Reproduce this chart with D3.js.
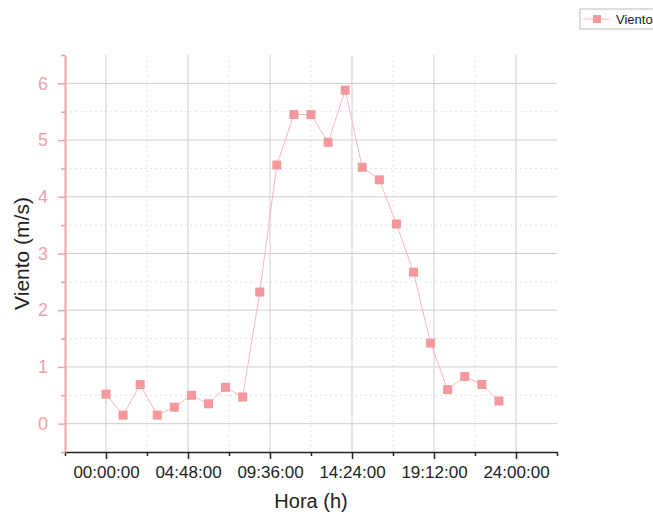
<!DOCTYPE html>
<html>
<head>
<meta charset="utf-8">
<script src="https://cdn.jsdelivr.net/npm/d3@7"></script>
<style>
  body { margin: 0; background: #fff; }
  svg { display: block; font-family: Arial, "Liberation Sans", sans-serif; }
</style>
</head>
<body>
<svg width="653" height="515"></svg>
<script>
// hours since midnight, wind speed in m/s
const hours = d3.range(0, 24);
const viento = [0.52, 0.15, 0.69, 0.15, 0.29, 0.5, 0.35, 0.64, 0.47, 2.32, 4.56,
  5.45, 5.45, 4.96, 5.88, 4.52, 4.3, 3.52, 2.67, 1.42, 0.6, 0.83, 0.69, 0.4];
const x_ticks = [0, 4.8, 9.6, 14.4, 19.2, 24];
const x_tick_labels = ["00:00:00", "04:48:00", "09:36:00", "14:24:00", "19:12:00", "24:00:00"];
const y_ticks = [0, 1, 2, 3, 4, 5, 6];

const pink = "#f4989c";
const axis_pink = "#eaa3ab";

const svg = d3.select("svg");
const plot_left = 65, plot_right = 557, plot_top = 55, plot_bottom = 452;

const x = d3.scaleLinear([-2.4, 26.4], [plot_left, plot_right]);
const y = d3.scaleLinear([-0.5, 6.5], [plot_bottom, plot_top]);

const x_minor = d3.range(-2.4, 26.5, 2.4).filter(h => !x_ticks.some(t => Math.abs(t - h) < 1e-6));
const y_minor = d3.range(-0.5, 6.6, 1);

// minor grid (dotted)
svg.append("g")
  .selectAll("line")
  .data(x_minor.filter(h => h > -2.3 && h < 26.3))
  .join("line")
    .attr("x1", d => x(d)).attr("x2", d => x(d))
    .attr("y1", plot_top).attr("y2", plot_bottom)
    .attr("stroke", "#e2e2e2").attr("stroke-dasharray", "2,3");
svg.append("g")
  .selectAll("line")
  .data(y_minor.filter(v => v > -0.4 && v < 6.4))
  .join("line")
    .attr("x1", plot_left).attr("x2", plot_right)
    .attr("y1", d => y(d)).attr("y2", d => y(d))
    .attr("stroke", "#e2e2e2").attr("stroke-dasharray", "2,3");

// major grid
svg.append("g")
  .selectAll("line")
  .data(x_ticks)
  .join("line")
    .attr("x1", d => x(d)).attr("x2", d => x(d))
    .attr("y1", plot_top).attr("y2", plot_bottom)
    .attr("stroke", "#cfcfcf");
svg.append("g")
  .selectAll("line")
  .data(y_ticks)
  .join("line")
    .attr("x1", plot_left).attr("x2", plot_right)
    .attr("y1", d => y(d)).attr("y2", d => y(d))
    .attr("stroke", "#cfcfcf");

// x axis
const xa = svg.append("g").attr("transform", `translate(0,${plot_bottom})`);
xa.call(d3.axisBottom(x).tickValues(x_minor).tickSize(4).tickFormat(""));
xa.select(".domain").remove();
xa.selectAll(".tick line").attr("stroke", "#222").attr("stroke-width", 1.5);
const xa2 = svg.append("g").attr("transform", `translate(0,${plot_bottom})`)
  .call(d3.axisBottom(x).tickValues(x_ticks).tickSize(7).tickSizeOuter(0)
    .tickFormat((d, i) => x_tick_labels[i]));
xa2.select(".domain").attr("stroke", "#222").attr("stroke-width", 1.5);
xa2.selectAll(".tick line").attr("stroke", "#222").attr("stroke-width", 1.5);
xa2.selectAll(".tick text").attr("font-size", 17).attr("fill", "#222").attr("dy", "0.95em");

// y axis
const ya = svg.append("g").attr("transform", `translate(${plot_left},0)`);
ya.call(d3.axisLeft(y).tickValues(y_minor).tickSize(4).tickFormat(""));
ya.select(".domain").remove();
ya.selectAll(".tick line").attr("stroke", axis_pink).attr("stroke-width", 1.5);
const ya2 = svg.append("g").attr("transform", `translate(${plot_left},0)`)
  .call(d3.axisLeft(y).tickValues(y_ticks).tickSize(7).tickSizeOuter(0).tickPadding(10)
    .tickFormat(d3.format("d")));
ya2.select(".domain").attr("stroke", axis_pink).attr("stroke-width", 2);
ya2.selectAll(".tick line").attr("stroke", axis_pink).attr("stroke-width", 1.5);
ya2.selectAll(".tick text").attr("font-size", 18).attr("fill", axis_pink);

// line + markers
const pts = hours.map((h, i) => [h, viento[i]]);
svg.append("path")
  .datum(pts)
  .attr("fill", "none")
  .attr("stroke", "#f2b9bd")
  .attr("stroke-width", 1)
  .attr("d", d3.line().x(d => x(d[0])).y(d => y(d[1])));

const m = 9;
svg.append("g")
  .selectAll("rect")
  .data(pts)
  .join("rect")
    .attr("x", d => x(d[0]) - m / 2)
    .attr("y", d => y(d[1]) - m / 2)
    .attr("width", m).attr("height", m)
    .attr("fill", pink);

// axis titles
svg.append("text")
  .attr("x", 311).attr("y", 508)
  .attr("text-anchor", "middle").attr("font-size", 20).attr("fill", "#222")
  .text("Hora (h)");
svg.append("text")
  .attr("transform", `translate(29,${(plot_top + plot_bottom) / 2}) rotate(-90)`)
  .attr("text-anchor", "middle").attr("font-size", 21).attr("fill", "#222")
  .text("Viento (m/s)");

// legend
const lg = svg.append("g");
lg.append("rect")
  .attr("x", 580).attr("y", 9).attr("width", 80).attr("height", 20)
  .attr("fill", "#fff").attr("stroke", "#aaa").attr("stroke-width", 0.8);
lg.append("line")
  .attr("x1", 583).attr("x2", 611).attr("y1", 19).attr("y2", 19)
  .attr("stroke", "#f2b9bd");
lg.append("rect")
  .attr("x", 593).attr("y", 15).attr("width", 8).attr("height", 8)
  .attr("fill", pink);
lg.append("text")
  .attr("x", 616).attr("y", 24)
  .attr("font-size", 13).attr("fill", "#222")
  .text("Viento");
</script>
</body>
</html>
